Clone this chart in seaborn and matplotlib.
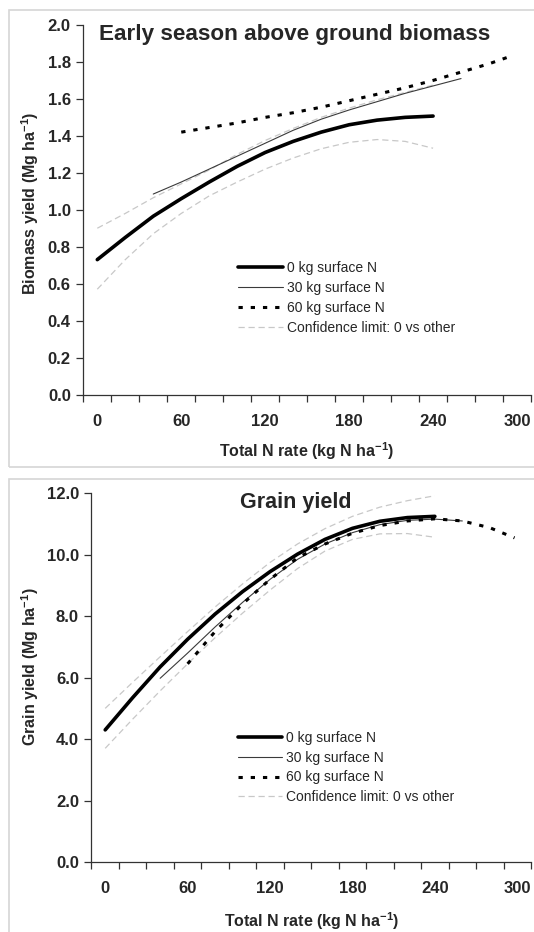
import numpy as np
import pandas as pd
import matplotlib.pyplot as plt
import seaborn as sns
from matplotlib.patches import Rectangle

# early season biomass (Mg/ha) vs total N rate
bio_x0 = [0, 20, 40, 60, 80, 100, 120, 140, 160, 180, 200, 220, 240]
bio_0kg = [0.73, 0.85, 0.965, 1.06, 1.15, 1.235, 1.31, 1.37, 1.42, 1.46, 1.485, 1.50, 1.507]
bio_upper = [0.90, 0.98, 1.065, 1.14, 1.215, 1.30, 1.375, 1.44, 1.50, 1.55, 1.595, 1.635, 1.675]
bio_lower = [0.57, 0.73, 0.87, 0.98, 1.075, 1.15, 1.22, 1.28, 1.33, 1.365, 1.38, 1.37, 1.333]
bio_x30 = [40, 60, 80, 100, 120, 140, 160, 180, 200, 220, 240, 260]
bio_30kg = [1.085, 1.15, 1.22, 1.29, 1.36, 1.43, 1.49, 1.54, 1.585, 1.63, 1.67, 1.71]
bio_x60 = [60, 80, 100, 120, 140, 160, 180, 200, 220, 240, 260, 280, 297]
bio_60kg = [1.42, 1.445, 1.47, 1.50, 1.525, 1.555, 1.59, 1.625, 1.66, 1.70, 1.745, 1.79, 1.835]

# grain yield (Mg/ha)
grn_x0 = [0, 20, 40, 60, 80, 100, 120, 140, 160, 180, 200, 220, 240]
grn_0kg = [4.3, 5.35, 6.35, 7.25, 8.07, 8.8, 9.45, 10.02, 10.5, 10.86, 11.09, 11.21, 11.25]
grn_upper = [5.0, 5.85, 6.68, 7.5, 8.3, 9.05, 9.75, 10.35, 10.85, 11.25, 11.55, 11.76, 11.92]
grn_lower = [3.7, 4.65, 5.57, 6.45, 7.3, 8.1, 8.85, 9.55, 10.12, 10.5, 10.68, 10.69, 10.57]
grn_x30 = [40, 60, 80, 100, 120, 140, 160, 180, 200, 220, 240, 260]
grn_30kg = [5.98, 6.8, 7.65, 8.45, 9.2, 9.85, 10.35, 10.72, 10.98, 11.12, 11.16, 11.1]
grn_x60 = [60, 80, 100, 120, 140, 160, 180, 200, 220, 240, 260, 280, 298]
grn_60kg = [6.45, 7.5, 8.4, 9.2, 9.9, 10.35, 10.7, 10.95, 11.1, 11.17, 11.1, 10.88, 10.55]

xtick_labels = [0, 60, 120, 180, 240, 300]
series_names = ["0 kg surface N", "30 kg surface N", "60 kg surface N",
                "Confidence limit: 0 vs other"]

sns.set_style("ticks")
plt.rcParams["font.family"] = ["Liberation Sans", "DejaVu Sans"]
plt.rcParams["mathtext.fontset"] = "custom"
plt.rcParams["mathtext.rm"] = "Liberation Sans"
plt.rcParams["mathtext.bf"] = "Liberation Sans:bold"

fig = plt.figure(figsize=(5.34, 9.32), dpi=100)
ax1 = fig.add_axes([0.156, 0.5767, 0.8384, 0.3965])
ax2 = fig.add_axes([0.1713, 0.0751, 0.8231, 0.3956])

ci_color = "#c8c8c8"


def draw_panel(ax, x0, y0, up, lo, x30, y30, x60, y60):
    sns.lineplot(x=x0, y=up, ax=ax, color=ci_color, lw=0.9,
                 linestyle=(0, (5, 3)), label=series_names[3])
    sns.lineplot(x=x0, y=lo, ax=ax, color=ci_color, lw=0.9,
                 linestyle=(0, (5, 3)))
    sns.lineplot(x=x30, y=y30, ax=ax, color="#3a3a3a", lw=0.8, label=series_names[1])
    sns.lineplot(x=x60, y=y60, ax=ax, color="black", lw=2.2,
                 linestyle=(0, (1.4, 2.6)), label=series_names[2])
    sns.lineplot(x=x0, y=y0, ax=ax, color="black", lw=2.6, label=series_names[0])

    ax.set_xlim(-10, 310)
    ax.set_xticks(np.arange(-10, 311, 20))
    ax.set_xticklabels([])
    ax.set_xticks(xtick_labels, minor=True)
    ax.set_xticklabels([str(v) for v in xtick_labels], minor=True,
                       fontsize=12, fontweight="bold")
    ax.tick_params(axis="x", which="minor", length=0, pad=14)
    ax.tick_params(axis="x", which="major", length=5, width=0.9, color="#333333")
    ax.tick_params(axis="y", length=5, width=0.9, color="#333333", pad=4,
                   labelsize=12)
    for side in ["top", "right"]:
        ax.spines[side].set_visible(False)
    for side in ["left", "bottom"]:
        ax.spines[side].set_color("#333333")
        ax.spines[side].set_linewidth(0.9)

    h, l = ax.get_legend_handles_labels()
    order = [l.index(n) for n in series_names]
    return [h[i] for i in order], [l[i] for i in order]


h1, l1 = draw_panel(ax1, bio_x0, bio_0kg, bio_upper, bio_lower,
                    bio_x30, bio_30kg, bio_x60, bio_60kg)
ax1.set_ylim(0, 2.0)
ax1.set_yticks(np.arange(0, 2.01, 0.2))
ax1.set_yticklabels([f"{v:.1f}" for v in np.arange(0, 2.01, 0.2)],
                    fontsize=12, fontweight="bold")
ax1.legend(h1, l1, loc="upper left", bbox_to_anchor=(0.346, 0.361),
           frameon=False, fontsize=10, handlelength=3.2, handletextpad=0.3,
           labelspacing=0.42, borderpad=0, borderaxespad=0)
ax1.text(0.035, 0.959, "Early season above ground biomass", transform=ax1.transAxes,
         fontsize=16.2, fontweight="bold", va="baseline", ha="left")
ax1.set_xlabel(r"Total N rate (kg N ha$^{\mathbf{-1}}$)", fontsize=11.5, fontweight="bold")
ax1.set_ylabel(r"Biomass yield (Mg ha$^{\mathbf{-1}}$)", fontsize=11.5, fontweight="bold")
ax1.xaxis.set_label_coords(0.5, -0.125)
ax1.yaxis.set_label_coords(-0.095, 0.518)

h2, l2 = draw_panel(ax2, grn_x0, grn_0kg, grn_upper, grn_lower,
                    grn_x30, grn_30kg, grn_x60, grn_60kg)
ax2.set_ylim(0, 12.0)
ax2.set_yticks(np.arange(0, 12.01, 2))
ax2.set_yticklabels([f"{v:.1f}" for v in np.arange(0, 12.01, 2)],
                    fontsize=12, fontweight="bold")
ax2.legend(h2, l2, loc="upper left", bbox_to_anchor=(0.333, 0.356),
           frameon=False, fontsize=10, handlelength=3.2, handletextpad=0.3,
           labelspacing=0.42, borderpad=0, borderaxespad=0)
ax2.text(0.338, 0.961, "Grain yield", transform=ax2.transAxes,
         fontsize=15.5, fontweight="bold", va="baseline", ha="left")
ax2.set_xlabel(r"Total N rate (kg N ha$^{\mathbf{-1}}$)", fontsize=11.5, fontweight="bold")
ax2.set_ylabel(r"Grain yield (Mg ha$^{\mathbf{-1}}$)", fontsize=11.5, fontweight="bold")
ax2.xaxis.set_label_coords(0.5, -0.13)
ax2.yaxis.set_label_coords(-0.115, 0.529)

# light panel frames
fig.add_artist(Rectangle((0.0174, 0.4984), 1.1, 0.4909, transform=fig.transFigure,
                         fill=False, ec="#d6d6d6", lw=1.2))
fig.add_artist(Rectangle((0.0174, -0.05), 1.1, 0.536, transform=fig.transFigure,
                         fill=False, ec="#d6d6d6", lw=1.2))

fig.savefig("out.png", dpi=100)
